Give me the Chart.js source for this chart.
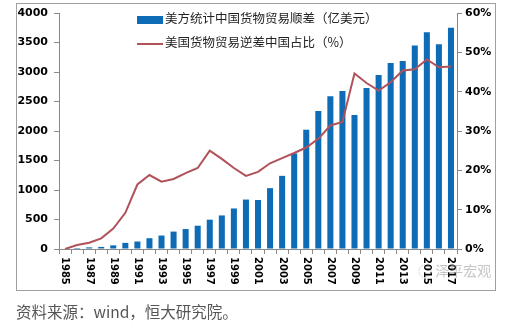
<!DOCTYPE html>
<html>
<head>
<meta charset="utf-8">
<script src="https://cdn.jsdelivr.net/npm/chart.js@4"></script>
<style>
    body { margin: 0; background: #fff; width: 522px; height: 334px; position: relative; overflow: hidden; }
    #wrap { position: absolute; left: 0; top: 0; width: 522px; height: 291px; }
    #moldura { position: absolute; left: 16px; top: 3px; width: 478px; height: 286px; border: 1px solid #a0a0a0; pointer-events: none; }
    .leg { position: absolute; left: 137px; font: 12.5px "Noto Sans CJK SC", sans-serif; color: #222; white-space: nowrap; }
    .leg i { display: inline-block; width: 26px; vertical-align: middle; margin-right: 2px; }
    #fonte { position: absolute; left: 16px; top: 300px; font: 15.5px "Noto Sans CJK SC", sans-serif; color: #555; white-space: nowrap; }
    #marca { position: absolute; left: 418px; top: 260px; font: 14px "Noto Sans CJK SC", sans-serif; color: rgba(150,150,150,0.55); white-space: nowrap; }
</style>
</head>
<body>
<div id="wrap"><canvas id="grafico" width="522" height="291"></canvas></div>
<div id="moldura"></div>
<div class="leg" style="top:8px"><i style="height:8px;background:#0d6cb5"></i>美方统计中国货物贸易顺差（亿美元）</div>
<div class="leg" style="top:32px"><i style="height:2px;background:#b0525a"></i>美国货物贸易逆差中国占比（%）</div>
<div id="marca">◌ 泽平宏观</div>
<div id="fonte">资料来源：wind，恒大研究院。</div>
<script>
// Anos e séries
const anos = ['1985','1986','1987','1988','1989','1990','1991','1992','1993','1994','1995',
    '1996','1997','1998','1999','2000','2001','2002','2003','2004','2005','2006',
    '2007','2008','2009','2010','2011','2012','2013','2014','2015','2016','2017'];
const saldo = [0, 17, 28, 35, 62, 104, 127, 183, 228, 295, 338, 395, 497, 569, 687, 838, 831,
    1031, 1240, 1620, 2022, 2340, 2588, 2680, 2270, 2730, 2951, 3151, 3187, 3449, 3672, 3470, 3752];
const participacao = [0, 1.0, 1.6, 2.7, 5.2, 9.2, 16.4, 18.8, 17.1, 17.8, 19.3, 20.6, 25.0, 22.9,
    20.6, 18.6, 19.6, 21.8, 23.1, 24.4, 25.8, 28.0, 31.4, 32.3, 44.6, 42.2, 40.3, 42.4, 45.4,
    45.7, 48.2, 46.2, 46.4];
const ticksEsq = [0, 500, 1000, 1500, 2000, 2500, 3000, 3500, 4000];
const ticksDir = [0, 10, 20, 30, 40, 50, 60];

// rótulos do eixo x girados no sentido horário (a cada dois anos)
const rotulosX = {
    id: 'rotulosX',
    afterDraw(chart) {
        const c = chart.ctx, sx = chart.scales.x;
        c.save();
        c.font = 'bold 10px "DejaVu Sans"';
        c.fillStyle = '#000';
        c.textAlign = 'left';
        c.textBaseline = 'middle';
        anos.forEach((a, i) => {
            if (i % 2) return;
            c.save();
            c.translate(sx.getPixelForValue(i), sx.top + 8);
            c.rotate(Math.PI / 2);
            c.fillText(a, 0, 0);
            c.restore();
        });
        c.restore();
    }
};

const ctx = document.getElementById('grafico').getContext('2d');
const chart = new Chart(ctx, {
    type: 'bar',
    data: {
        labels: anos,
        datasets: [
            {
                type: 'line',
                label: '美国货物贸易逆差中国占比（%）',
                data: participacao,
                yAxisID: 'y1',
                borderColor: '#b0525a',
                borderWidth: 2,
                pointRadius: 0,
                tension: 0,
                fill: false
            },
            {
                label: '美方统计中国货物贸易顺差（亿美元）',
                data: saldo,
                yAxisID: 'y',
                backgroundColor: '#0d6cb5',
                barPercentage: 0.5,
                categoryPercentage: 1.0
            }
        ]
    },
    options: {
        responsive: false,
        animation: false,
        layout: { padding: { left: 16, right: 27, top: 13, bottom: 0 } },
        plugins: {
            legend: { display: false },
            title: { display: false },
            tooltip: { enabled: false }
        },
        scales: {
            x: {
                afterFit(s) { s.height = 42; },
                grid: { display: true, offset: true, drawOnChartArea: false, tickLength: 5, color: '#8a8a8a' },
                border: { display: true, color: '#8a8a8a' },
                ticks: { display: false }
            },
            y: {
                position: 'left',
                min: 0, max: 4000,
                afterFit(s) { s.width = 43; },
                afterBuildTicks(s) { s.ticks = ticksEsq.map(v => ({ value: v })); },
                grid: { drawOnChartArea: false, tickLength: 5, color: '#8a8a8a' },
                border: { display: true, color: '#8a8a8a' },
                ticks: {
                    padding: 6, color: '#000',
                    font: { family: 'DejaVu Sans', weight: 'bold', size: 11 },
                    callback: v => String(v)
                }
            },
            y1: {
                position: 'right',
                min: 0, max: 60,
                afterFit(s) { s.width = 38; },
                afterBuildTicks(s) { s.ticks = ticksDir.map(v => ({ value: v })); },
                grid: { drawOnChartArea: false, tickLength: 5, color: '#8a8a8a' },
                border: { display: true, color: '#8a8a8a' },
                ticks: {
                    padding: 3, color: '#000',
                    font: { family: 'DejaVu Sans', weight: 'bold', size: 11 },
                    callback: v => v + '%'
                }
            }
        }
    },
    plugins: [rotulosX]
});
</script>
</body>
</html>
